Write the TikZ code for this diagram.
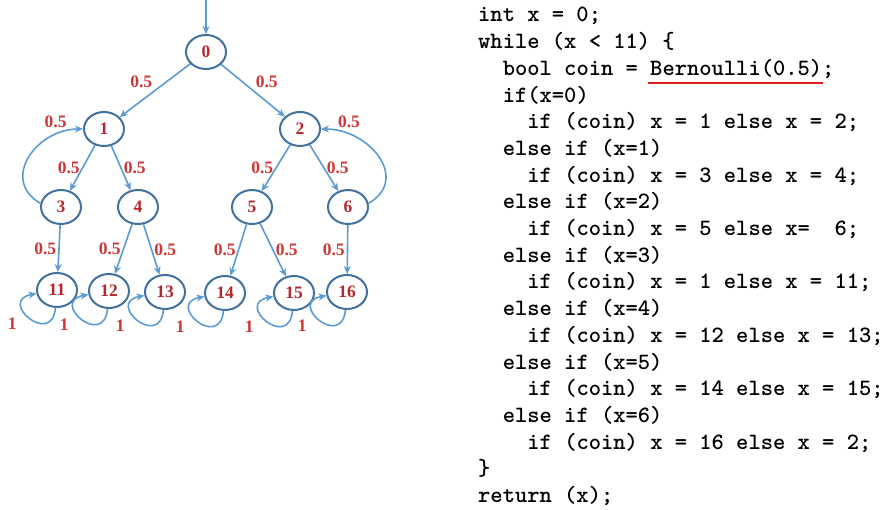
\documentclass[tikz,border=0pt]{standalone}
\usepackage{fontspec}
\usetikzlibrary{shapes.geometric,arrows.meta}
\newfontfamily\labelfont{Liberation Serif}
\definecolor{edgeblue}{RGB}{91,155,213}
\definecolor{nodeblue}{RGB}{65,113,156}
\definecolor{labred}{RGB}{205,55,55}
\definecolor{numred}{RGB}{180,40,45}
\definecolor{linered}{RGB}{225,30,30}
\tikzset{
	state/.style={ellipse,draw=nodeblue,line width=2pt,minimum width=40pt,minimum height=34pt,inner sep=0pt,text=numred,font=\labelfont\fontsize{17.5}{17.5}\selectfont\bfseries},
	trans/.style={-{Stealth[length=8pt,width=7pt]},edgeblue,line width=1.6pt},
	prob/.style={text=labred,inner sep=2pt,font=\labelfont\fontsize{17.5}{17.5}\selectfont\bfseries},
	selfloop/.style={out=-95,in=190,min distance=40pt},
	looplabel/.style={prob,pos=0.62,below left,xshift=-5pt,yshift=-3pt},
	code/.style={anchor=base west,inner sep=0pt,font=\fontsize{23.4}{23.4}\selectfont\ttfamily\bfseries},
}
\begin{document}
\begin{tikzpicture}[x=1pt,y=1pt]
		\useasboundingbox (0,0) rectangle (887,-510);
		% chain
		\coordinate (start) at (206,0);
		\node[state] (n0) at (206,-52) {0};
		\node[state] (n1) at (104,-129) {1};
		\node[state] (n2) at (300,-129) {2};
		\node[state] (n3) at (61,-207) {3};
		\node[state] (n4) at (138,-207) {4};
		\node[state] (n5) at (252,-207) {5};
		\node[state] (n6) at (348,-207) {6};
		\node[state] (n11) at (57,-290) {11};
		\node[state] (n12) at (109,-291) {12};
		\node[state] (n13) at (165,-292) {13};
		\node[state] (n14) at (225,-293) {14};
		\node[state] (n15) at (294,-293) {15};
		\node[state] (n16) at (347,-292) {16};
		
		\draw[trans] (start) -- (n0);
		\draw[trans] (n0) -- node[prob,above left] {0.5} (n1);
		\draw[trans] (n0) -- node[prob,above right] {0.5} (n2);
		\draw[trans] (n1) -- node[prob,left] {0.5} (n3);
		\draw[trans] (n1) -- node[prob,right] {0.5} (n4);
		\draw[trans] (n2) -- node[prob,left] {0.5} (n5);
		\draw[trans] (n2) -- node[prob,right] {0.5} (n6);
		\draw[trans] (n3.170) to[out=150,in=180,looseness=1.4] node[prob,pos=0.9,above left] {0.5} (n1);
		\draw[trans] (n6.10) to[out=30,in=0,looseness=1.4] node[prob,pos=0.9,above right] {0.5} (n2);
		\draw[trans] (n3) -- node[prob,left] {0.5} (n11);
		\draw[trans] (n4) -- node[prob,left] {0.5} (n12);
		\draw[trans] (n4) -- node[prob,right] {0.5} (n13);
		\draw[trans] (n5) -- node[prob,left] {0.5} (n14);
		\draw[trans] (n5) -- node[prob,right] {0.5} (n15);
		\draw[trans] (n6) -- node[prob,left] {0.5} (n16);
		
		\draw[trans] (n11) to[selfloop] node[looplabel] {1} (n11);
		\draw[trans] (n12) to[selfloop] node[looplabel] {1} (n12);
		\draw[trans] (n13) to[selfloop] node[looplabel] {1} (n13);
		\draw[trans] (n14) to[selfloop] node[looplabel] {1} (n14);
		\draw[trans] (n15) to[selfloop] node[looplabel] {1} (n15);
		\draw[trans] (n16) to[selfloop] node[looplabel] {1} (n16);
		
		% program
		\node[code] (c1) at (478,-22) {int x = 0;};
		\node[code] (c2) at (478,-48.7) {while (x < 11) \{};
		\node[code] (c3) at (502.6,-75.4) {bool coin = Bernoulli(0.5);};
		\node[code] (c4) at (502.6,-102.1) {if(x=0)};
		\node[code] (c5) at (527.2,-128.8) {if (coin) x = 1 else x = 2;};
		\node[code] (c6) at (502.6,-155.5) {else if (x=1)};
		\node[code] (c7) at (527.2,-182.2) {if (coin) x = 3 else x = 4;};
		\node[code] (c8) at (502.6,-208.9) {else if (x=2)};
		\node[code] (c9) at (527.2,-235.6) {if (coin) x = 5 else x=\ \ 6;};
		\node[code] (c10) at (502.6,-262.3) {else if (x=3)};
		\node[code] (c11) at (527.2,-289) {if (coin) x = 1 else x = 11;};
		\node[code] (c12) at (502.6,-315.7) {else if (x=4)};
		\node[code] (c13) at (527.2,-342.4) {if (coin) x = 12 else x = 13;};
		\node[code] (c14) at (502.6,-369.1) {else if (x=5)};
		\node[code] (c15) at (527.2,-395.8) {if (coin) x = 14 else x = 15;};
		\node[code] (c16) at (502.6,-422.5) {else if (x=6)};
		\node[code] (c17) at (527.2,-449.2) {if (coin) x = 16 else x = 2;};
		\node[code] (c18) at (478,-475.9) {\}};
		\node[code] (c19) at (478,-502.6) {return (x);};
		\draw[linered,line width=1.2pt] (648,-83) -- (823,-83);
	\end{tikzpicture}
\end{document}
